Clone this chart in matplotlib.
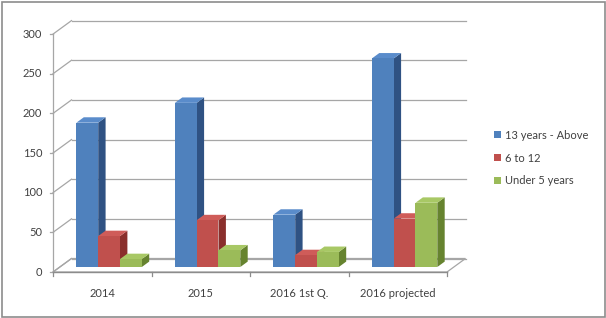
"""Grouped 3-D style column chart: age groups per period."""

import matplotlib

matplotlib.use("Agg")
import matplotlib.pyplot as plt
from matplotlib.patches import Polygon, Rectangle
import numpy as np

plt.rcParams["font.family"] = ["Lato", "DejaVu Sans"]

CATEGORIES = ["2014", "2015", "2016 1st Q.", "2016 projected"]
SERIES = ["13 years - Above", "6 to 12", "Under 5 years"]
OVER_13 = [182, 207, 66, 263]
SIX_TO_12 = [39, 59, 15, 61]
UNDER_5 = [10, 21, 19, 81]
Y_TICKS = [0, 50, 100, 150, 200, 250, 300]

FRONT = ["#4f81bd", "#c0504d", "#9bbb59"]
SIDE = ["#2f5283", "#8a2f2c", "#66832f"]
TOP = ["#5a8ccb", "#cf5c59", "#a8c865"]
GRID = "#a6a6a6"
TEXT = "#404040"

# pixel geometry of the plot (origin of front plane, scales, depth)
PX_X0, PX_Y0 = 53, 272
PX_PER_CAT, PX_PER_UNIT = 98.5, 0.793
W, H = 606, 318
DX = 18.5 / PX_PER_CAT
DY = 13.5 / PX_PER_UNIT
BAR_W = 21.8 / PX_PER_CAT
BAR_F0 = 0.37
BAR_DEPTH = 0.40

fig = plt.figure(figsize=(W / 100, H / 100), dpi=100)
ax = fig.add_axes([0, 0, 1, 1])
ax.set_xlim(-0.5 - PX_X0 / PX_PER_CAT, -0.5 + (W - PX_X0) / PX_PER_CAT)
ax.set_ylim(-(H - PX_Y0) / PX_PER_UNIT, PX_Y0 / PX_PER_UNIT)
ax.axis("off")

n = len(CATEGORIES)
x_left, x_right = -0.5, n - 0.5

# floor
ax.add_patch(Polygon([(x_left, 0), (x_right, 0), (x_right + DX, DY), (x_left + DX, DY)],
                     closed=True, facecolor="white", edgecolor=GRID, lw=0.9, zorder=1))
# back wall gridlines and left wall diagonals
for v in Y_TICKS:
    ax.plot([x_left + DX, x_right + DX], [v + DY, v + DY], color=GRID, lw=0.9, zorder=1)
    ax.plot([x_left, x_left + DX], [v, v + DY], color=GRID, lw=0.9, zorder=1)
    ax.plot([x_left - 0.035, x_left], [v, v], color=GRID, lw=0.9, zorder=1)
    ax.text(x_left - 0.11, v, str(v), ha="right", va="center", fontsize=8, color=TEXT)
ax.plot([x_left, x_left], [0, Y_TICKS[-1]], color=GRID, lw=0.9, zorder=1)
ax.plot([x_left, x_right], [0, 0], color="#8c8c8c", lw=1.0, zorder=2)
for i in range(n + 1):
    ax.plot([i - 0.5, i - 0.5], [0, -5], color="#8c8c8c", lw=0.9, zorder=2)
for i, label in enumerate(CATEGORIES):
    ax.text(i, -27, label, ha="center", va="center", fontsize=8, color=TEXT)

# columns
values = [OVER_13, SIX_TO_12, UNDER_5]
x = np.arange(n)
bx, by = BAR_F0 * DX, BAR_F0 * DY
ddx, ddy = BAR_DEPTH * DX, BAR_DEPTH * DY
handles = []
for ci in range(n):
    for si, series in enumerate(values):
        v = series[ci]
        xl = x[ci] + bx + (si - 1.5) * BAR_W
        xr = xl + BAR_W
        b = by
        ax.add_patch(Polygon([(xr, b), (xr + ddx, b + ddy), (xr + ddx, b + v + ddy), (xr, b + v)],
                             closed=True, facecolor=SIDE[si], edgecolor="none", zorder=3))
        ax.add_patch(Polygon([(xl, b + v), (xl + ddx, b + v + ddy), (xr + ddx, b + v + ddy), (xr, b + v)],
                             closed=True, facecolor=TOP[si], edgecolor="none", zorder=3))
        ax.add_patch(Rectangle((xl, b), BAR_W, v, facecolor=FRONT[si], edgecolor="none", zorder=3))

for si, name in enumerate(SERIES):
    handles.append(Rectangle((0, 0), 1, 1, facecolor=FRONT[si], edgecolor="none", label=name))
fig.legend(handles=handles, loc="center left", bbox_to_anchor=(484 / W, 1 - 158 / H),
           frameon=False, fontsize=8, handlelength=0.6, handleheight=0.6,
           handletextpad=0.4, labelspacing=1.05, labelcolor=TEXT)

# chart border
fig.add_artist(Rectangle((1.5 / W, 1.5 / H), 1 - 3 / W, 1 - 3 / H, transform=fig.transFigure,
                         facecolor="none", edgecolor="#8c8c8c", lw=1.2))

fig.savefig("out.png", dpi=100)
